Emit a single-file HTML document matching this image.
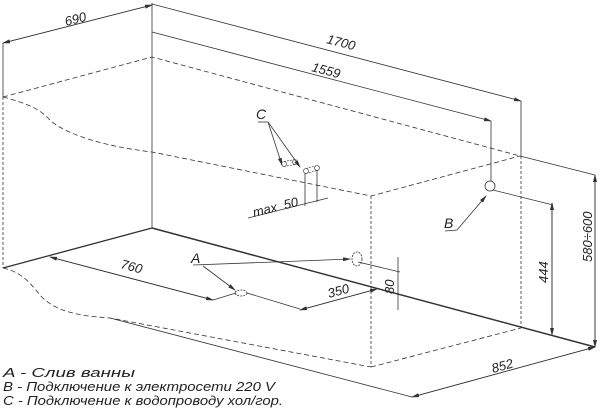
<!DOCTYPE html>
<html><head><meta charset="utf-8"><style>
html,body{margin:0;padding:0;background:#fff;}
svg{display:block;}
text{font-family:"Liberation Sans",sans-serif;font-style:italic;fill:#222;}
</style></head><body>
<svg width="600" height="416" viewBox="0 0 600 416" xmlns="http://www.w3.org/2000/svg">
<defs>
<marker id="ar" markerWidth="8" markerHeight="4" refX="7" refY="2" orient="auto" markerUnits="userSpaceOnUse">
<path d="M0,0 L8,2 L0,4 Z" fill="#333"/></marker>
</defs>
<g stroke="#333" stroke-width="0.8" fill="none">
<line x1="3" y1="43" x2="3" y2="97"/>
<line x1="3" y1="97" x2="3" y2="268" stroke-dasharray="3,2"/>
<line x1="152" y1="3" x2="152" y2="228"/>
<line x1="152" y1="5" x2="3" y2="43" marker-end="url(#ar)"/>
<line x1="3" y1="43" x2="152" y2="5" marker-end="url(#ar)"/>
<line x1="152" y1="4" x2="521" y2="101" marker-end="url(#ar)"/>
<line x1="152" y1="32" x2="491" y2="121" marker-end="url(#ar)"/>
<line x1="521" y1="101" x2="521" y2="156"/>
<line x1="491" y1="121" x2="491" y2="181"/>
<polyline points="3,97 152,57 520,156" stroke-dasharray="5,3"/>
<line x1="520" y1="156" x2="595" y2="175"/>
<path d="M3,97 C30,104 40,110 48,118 C60,132 100,146 152,152 L371,196 L520,156" stroke-dasharray="5,3"/>
<line x1="371" y1="196" x2="371" y2="367" stroke-dasharray="3,2"/>
<line x1="521" y1="156" x2="521" y2="328" stroke-dasharray="3,2"/>
<line x1="371" y1="367" x2="521" y2="328" stroke-dasharray="5,3"/>
<path d="M3,268 C20,272 28,280 40,295 C55,312 80,316 110,318 L371,367" stroke-dasharray="5,3"/>
<line x1="110" y1="318" x2="412" y2="397"/>
<line x1="412" y1="397" x2="595" y2="347" marker-end="url(#ar)"/>
<line x1="595" y1="347" x2="412" y2="397" marker-end="url(#ar)"/>
<line x1="3" y1="268" x2="152" y2="228" stroke-width="1.3"/>
<line x1="152" y1="228" x2="595" y2="347" stroke-width="1.5"/>
<line x1="213" y1="300" x2="50" y2="257" marker-end="url(#ar)"/>
<line x1="50" y1="257" x2="213" y2="300" marker-end="url(#ar)"/>
<line x1="213" y1="300" x2="236" y2="293"/>
<ellipse cx="241" cy="293" rx="6" ry="3" stroke-dasharray="2,1"/>
<line x1="247" y1="293" x2="300" y2="309"/>
<line x1="377" y1="289" x2="300" y2="310" marker-end="url(#ar)"/>
<line x1="300" y1="310" x2="377" y2="289" marker-end="url(#ar)"/>
<line x1="193" y1="265" x2="300" y2="261"/>
<line x1="300" y1="261" x2="350" y2="259" marker-end="url(#ar)"/>
<line x1="203" y1="266" x2="235" y2="290" marker-end="url(#ar)"/>
<ellipse cx="357" cy="259" rx="5" ry="7" stroke-dasharray="2,1"/>
<line x1="358" y1="262" x2="400" y2="272"/>
<line x1="398" y1="257" x2="398" y2="310"/>
<line x1="552" y1="335" x2="552" y2="203" marker-end="url(#ar)"/>
<line x1="552" y1="203" x2="552" y2="335" marker-end="url(#ar)"/>
<line x1="493" y1="190" x2="553" y2="205"/>
<line x1="595" y1="347" x2="595" y2="175" marker-end="url(#ar)"/>
<line x1="595" y1="175" x2="595" y2="347" marker-end="url(#ar)"/>
<circle cx="490" cy="186" r="5"/>
<line x1="457" y1="230" x2="486" y2="196" marker-end="url(#ar)"/>
<line x1="445" y1="231" x2="457" y2="230"/>
<line x1="258" y1="122" x2="268" y2="122"/>
<line x1="268" y1="122" x2="282" y2="165" marker-end="url(#ar)"/>
<line x1="268" y1="122" x2="300" y2="167" marker-end="url(#ar)"/>
<g stroke-width="0.6">
<circle cx="284" cy="164" r="2.5"/><circle cx="295" cy="162" r="2.5"/>
<circle cx="306" cy="171" r="2.5"/><circle cx="317" cy="168" r="2.5"/>
<line x1="284" y1="161.5" x2="295" y2="159.5" stroke-dasharray="2,1"/>
<line x1="284" y1="166.5" x2="295" y2="164.5" stroke-dasharray="2,1"/>
<line x1="306" y1="168.5" x2="317" y2="165.5" stroke-dasharray="2,1"/>
<line x1="306" y1="173.5" x2="317" y2="170.5" stroke-dasharray="2,1"/>
</g>
<line x1="305" y1="173" x2="305" y2="206"/>
<line x1="317" y1="170" x2="317" y2="202"/>
<line x1="248" y1="218" x2="328" y2="198"/>
</g>
<g font-size="13">
<text transform="translate(66,26) rotate(-14.3)">690</text>
<text transform="translate(326,43) rotate(14.7)">1700</text>
<text transform="translate(311,71) rotate(14.7)">1559</text>
<text transform="translate(120,268) rotate(14.8)">760</text>
<text transform="translate(329,298) rotate(-15)">350</text>
<text transform="translate(493,373) rotate(-15.3)">852</text>
<text transform="translate(254,217) rotate(-14)">max&#160; 50</text>
<text transform="translate(394,294) rotate(-90)">80</text>
<text transform="translate(548,283) rotate(-90)">444</text>
<text transform="translate(592,262) rotate(-90)">580÷600</text>
<text x="256" y="119" font-size="14">C</text>
<text x="191" y="263" font-size="14">A</text>
<text x="444" y="228" font-size="14">B</text>
<text x="3" y="377" textLength="132" lengthAdjust="spacingAndGlyphs">A - Слив ванны</text>
<text x="3" y="391" textLength="272" lengthAdjust="spacingAndGlyphs">B - Подключение к электросети 220 V</text>
<text x="3" y="405" textLength="280" lengthAdjust="spacingAndGlyphs">C - Подключение к водопроводу хол/гор.</text>
</g>
</svg>
</body></html>
